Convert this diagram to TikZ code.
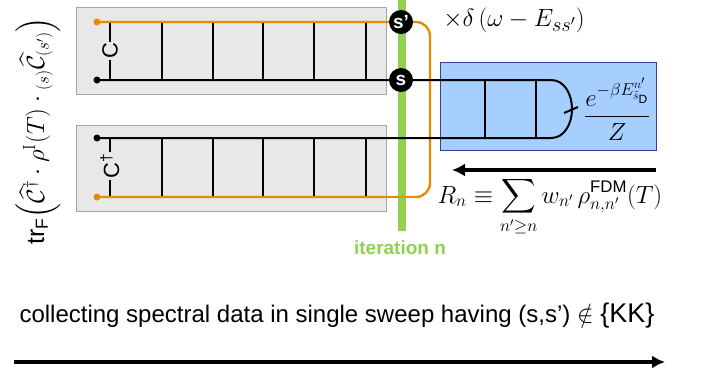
\documentclass[tikz,border=0pt]{standalone}
\usepackage{amsmath}
\usepackage{amssymb}
\usepackage{fontspec}
\setsansfont{Liberation Sans}
\usetikzlibrary{arrows.meta}

\definecolor{wireorange}{RGB}{230,140,0}
\definecolor{itergreen}{RGB}{146,208,80}
\definecolor{fdmblue}{RGB}{166,206,255}
\definecolor{fdmedge}{RGB}{60,60,160}
\definecolor{boxgray}{RGB}{232,232,232}
\definecolor{boxedge}{RGB}{165,165,165}

\begin{document}
\begin{tikzpicture}[x=1pt,y=-1pt,
    blockbox/.style={draw=boxedge,fill=boxgray,line width=1pt},
    wire/.style={line width=2pt},
    owire/.style={line width=2.4pt,wireorange},
    rung/.style={line width=1.8pt},
    sitedot/.style={circle,fill=black,minimum size=24pt,inner sep=0pt,
        text=white,font=\sffamily\bfseries\fontsize{19}{19}\selectfont},
    opname/.style={rotate=90,fill=boxgray,inner sep=1.5pt,
        font=\sffamily\fontsize{22}{22}\selectfont},
    bigarrow/.style={line width=4pt,-{Latex[length=13pt,width=13pt]}}]

            \useasboundingbox (0,0) rectangle (704,375);

            % Gray blocks of the two halves of the trace
            \draw[blockbox] (76,7) rectangle (386,94);
            \draw[blockbox] (76,125) rectangle (386,211);

            % FDM block with the thermal weights
            \draw[draw=fdmedge,fill=fdmblue,line width=1pt] (440,62) rectangle (656,150);

            % Iteration bar
            \draw[itergreen,line width=8pt] (402,0) -- (402,231);
            \node[text=itergreen,font=\sffamily\bfseries\fontsize{19}{19}\selectfont] (iter) at (400,248) {iteration n};

            % End points of the wires
            \coordinate (uo) at (97,22);
            \coordinate (ub) at (97,80);
            \coordinate (lb) at (97,138);
            \coordinate (lo) at (97,197);
            \coordinate (loopt) at (430,22);
            \coordinate (loopb) at (430,197);
            \coordinate (capt) at (551,80);
            \coordinate (capr) at (572,109);
            \coordinate (capb) at (551,138);

            % Rungs of the ladders
            \foreach \x in {162,213,263,314,366} {
                \draw[rung] (\x,22) -- (\x,80);
                \draw[rung] (\x,138) -- (\x,197);
            }
            \foreach \x in {485,536} {
                \draw[rung] (\x,80) -- (\x,138);
            }
            \draw[rung] (110,22) -- (110,80);
            \draw[rung] (110,138) -- (110,197);
            \node[opname] (cup) at (110,51) {C};
            \node[opname] (cdn) at (110,166) {C\textsuperscript{\dag}};

            % Wires
            \draw[owire,rounded corners=14pt] (uo) -- (401,22) -- (loopt) -- (loopb) -- (lo);
            \draw[wire] (ub) -- (401,80) -- (capt) to[out=0,in=90] (capr)
                to[out=-90,in=0] (capb) -- (lb);
            \draw[wire] (564,113) -- (578,107);
            \foreach \p in {ub,lb} {
                \fill (\p) circle (3.5pt);
            }
            \foreach \p in {uo,lo} {
                \fill[wireorange] (\p) circle (3.5pt);
            }

            % Sites on the iteration bar
            \node[sitedot] (sp) at (401,22) {s'};
            \node[sitedot] (s) at (401,80) {s};

            % Formulas
            \node[rotate=90,inner sep=0pt,font=\fontsize{25}{25}\selectfont] (trace) at (38,131)
                {$\mathsf{tr}_{\mathsf{F}}\Bigl(\widehat{\mathcal{C}}^{\dagger}\cdot\rho^{\mathrm{I}}(T)\cdot{}_{(s)}\widehat{\mathcal{C}}_{(s')}\Bigr)$};
            \node[font=\fontsize{28}{28}\selectfont] (delta) at (514,20)
                {$\times\delta\left(\omega-E_{ss'}\right)$};
            \node[font=\fontsize{24}{24}\selectfont] (weight) at (617,109)
                {$\dfrac{e^{-\beta E^{n'}_{\tilde{s}_{\mathsf{D}}}}}{Z}$};
            \node[font=\fontsize{24}{24}\selectfont] (rn) at (550,207)
                {$R_n\equiv\displaystyle\sum_{n'\geq n} w_{n'}\,\rho^{\mathsf{FDM}}_{n,n'}(T)$};

            % Arrows
            \coordinate (rstart) at (656,170);
            \coordinate (rend) at (452,170);
            \draw[bigarrow] (rstart) -- (rend);

            \node[anchor=west,font=\sffamily\fontsize{24}{24}\selectfont] (sweep) at (16,316)
                {collecting spectral data in single sweep having (s,s’) $\notin$ {\fontsize{27}{27}\selectfont\{KK\}}};
            \coordinate (sstart) at (14,362);
            \coordinate (send) at (665,362);
            \draw[bigarrow] (sstart) -- (send);

\end{tikzpicture}
\end{document}
